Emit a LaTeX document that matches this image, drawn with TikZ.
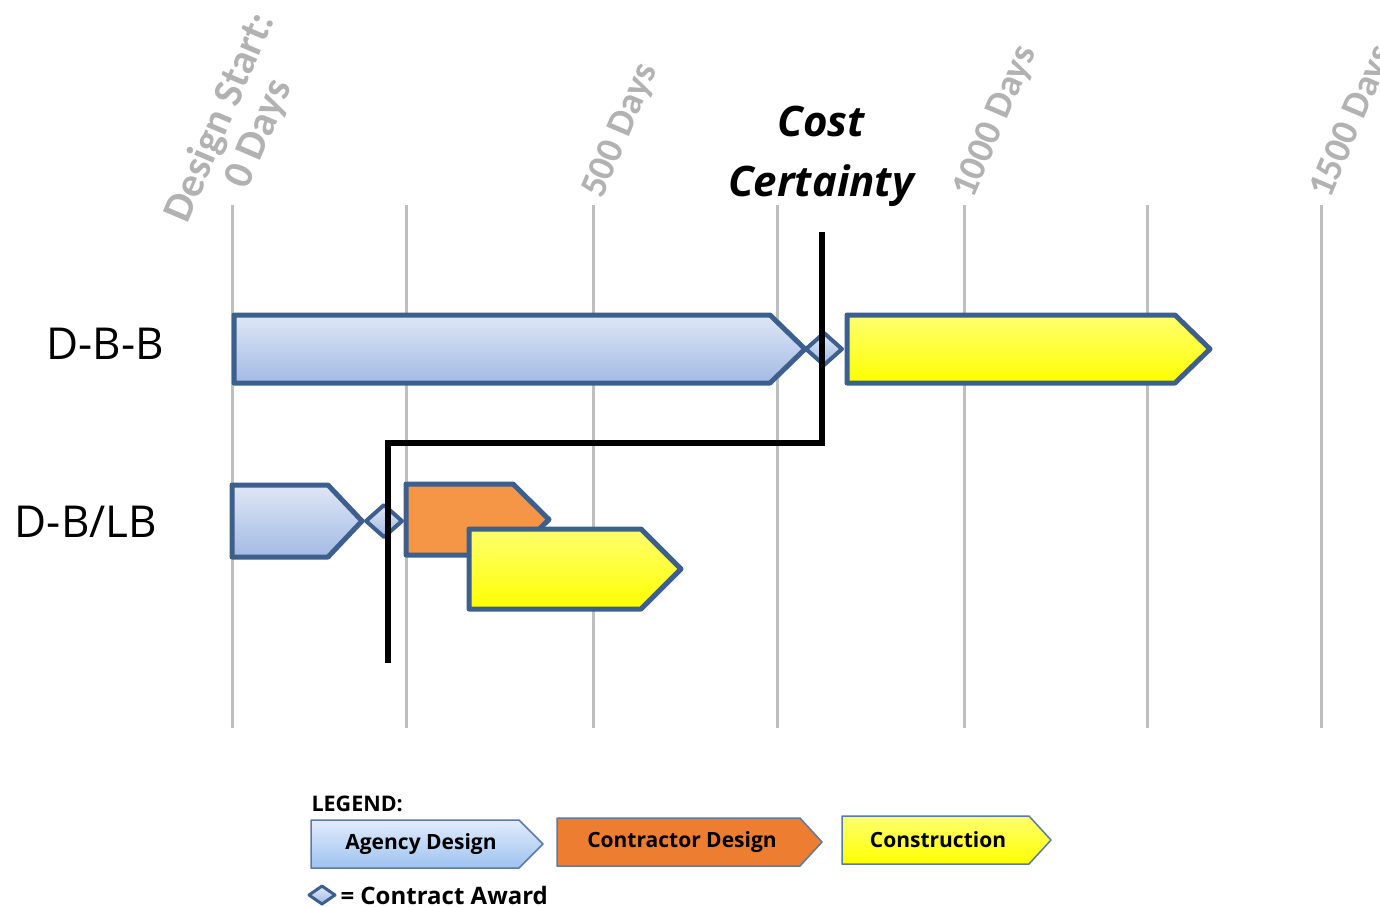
\documentclass[tikz,border=0pt]{standalone}
\usepackage{fontspec}
\setmainfont{Carlito}
\newfontfamily\labelfont{Open Sans}
\begin{document}
\begin{tikzpicture}[x=1pt,y=-1pt,
  grid/.style={draw=gray!50,line width=3pt},
  bar/.style={draw=barline,line width=5pt,line join=round},
  agency/.style={bar,top color=agtop,bottom color=agbot},
  contractor/.style={bar,fill=orgfill},
  build/.style={bar,top color=yltop,bottom color=ylbot},
  award/.style={bar,line width=4pt,top color=agtop,bottom color=agbot},
  certain/.style={draw=black,line width=6pt},
  daylabel/.style={text=gray!60,font=\bfseries\fontsize{38}{38}\selectfont,rotate=67},
  rowlabel/.style={font=\labelfont\fontsize{44}{50}\selectfont},
  legbox/.style={draw=legline,line width=1.5pt,line join=round},
  legtext/.style={font=\labelfont\bfseries\fontsize{21}{24}\selectfont}]
\definecolor{barline}{HTML}{3C5F8E}
\definecolor{legline}{HTML}{5A7AA8}
\definecolor{agtop}{HTML}{DFE7F6}
\definecolor{agbot}{HTML}{A2BAE4}
\definecolor{orgfill}{HTML}{F59646}
\definecolor{legorg}{HTML}{ED7D31}
\definecolor{yltop}{HTML}{FFFF70}
\definecolor{ylbot}{HTML}{FFFF00}
\definecolor{lgtop}{HTML}{E2ECFB}
\definecolor{lgbot}{HTML}{9EC2F0}
% chevron: left x, body end x, tip x, top y, bottom y, style
\newcommand{\chevron}[6]{%
  \path[#6] (#1,#4) -- (#2,#4) -- (#3,{(#4+#5)/2}) -- (#2,#5) -- (#1,#5) -- cycle;}
% diamond: centre x, centre y, half width, half height, style
\newcommand{\awardmark}[5]{%
  \path[#5] (#1-#3,#2) -- (#1,#2-#4) -- (#1+#3,#2) -- (#1,#2+#4) -- cycle;}

\useasboundingbox (0,0) rectangle (1380,906);

% time grid
\foreach \gx in {232,406,593,777,964,1147,1321}
  \draw[grid] (\gx,205) -- (\gx,728);

% day labels
\node[daylabel,align=center,font=\bfseries\fontsize{42}{42}\selectfont] (start) at (240,126) {Design Start:\\0 Days};
\node[daylabel,anchor=base west] (d500) at (601,203) {500 Days};
\node[daylabel,anchor=base west] (d1000) at (972,203) {1000 Days};
\node[daylabel,anchor=base west] (d1500) at (1329,203) {1500 Days};

% row labels
\node[rowlabel] (dbb) at (105,344) {D-B-B};
\node[rowlabel] (dblb) at (86,522) {D-B/LB};

% D-B-B
\chevron{234}{770}{805}{315}{383}{agency}
\awardmark{824}{349}{18}{16}{award}
\chevron{847}{1175}{1210}{315}{383}{build}

% D-B/LB
\chevron{232}{328}{362}{485}{557}{agency}
\awardmark{384}{521}{18}{16}{award}
\chevron{406}{513}{549}{484}{555}{contractor}
\chevron{469}{641}{681}{529}{609}{build}

% cost certainty line
\node[font=\labelfont\bfseries\itshape\fontsize{42}{60}\selectfont,align=center] (cc) at (821,156) {Cost\\Certainty};
\coordinate (c1) at (822,232);
\coordinate (c2) at (822,443);
\coordinate (c3) at (388,443);
\coordinate (c4) at (388,663);
\draw[certain] (c1) -- (c2) -- (c3) -- (c4);

% legend
\node[font=\labelfont\bfseries\fontsize{21.5}{22}\selectfont,anchor=west] (leg) at (308,804) {LEGEND:};
\chevron{311}{519}{543}{820}{868}{legbox,top color=lgtop,bottom color=lgbot}
\node[legtext] (lagency) at (421,844) {Agency Design};
\chevron{557}{800}{822}{818}{866}{legbox,fill=legorg}
\node[legtext] (lcontr) at (682,842) {Contractor Design};
\chevron{842}{1029}{1051}{816}{864}{legbox,top color=yltop,bottom color=ylbot}
\node[legtext] (lcons) at (938,840) {Construction};
\awardmark{322}{895}{13}{9}{bar,line width=3pt,top color=agtop,bottom color=agbot}
\node[font=\labelfont\bfseries\fontsize{24}{25}\selectfont,anchor=west] (lawd) at (337,895) {= Contract Award};
\end{tikzpicture}
\end{document}
